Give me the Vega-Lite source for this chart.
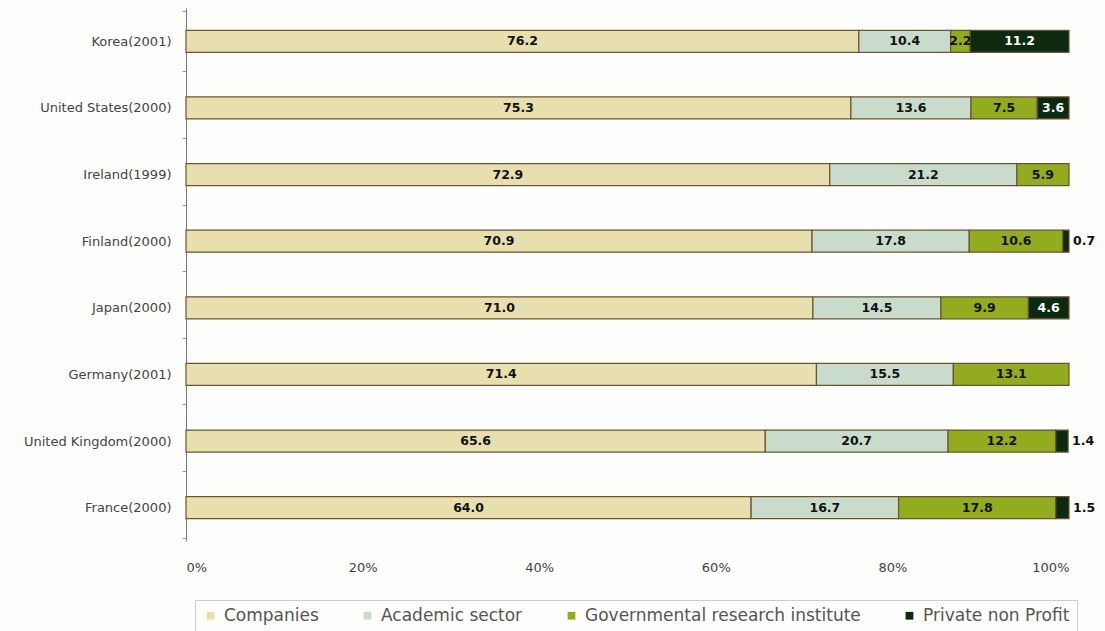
{
  "$schema": "https://vega.github.io/schema/vega-lite/v6.json",
  "width": 883,
  "height": 533,
  "autosize": {"type": "none"},
  "padding": {"left": 186, "top": 8, "right": 36, "bottom": 90},
  "background": "#fdfdfb",
  "config": {"view": {"stroke": null}, "font": "DejaVu Sans"},
  "data": {"values": [
    {"country": "Korea(2001)", "sector": "Companies", "k": 1, "value": 76.2},
    {"country": "Korea(2001)", "sector": "Academic sector", "k": 2, "value": 10.4},
    {"country": "Korea(2001)", "sector": "Governmental research institute", "k": 3, "value": 2.2},
    {"country": "Korea(2001)", "sector": "Private non Profit", "k": 4, "value": 11.2},
    {"country": "United States(2000)", "sector": "Companies", "k": 1, "value": 75.3},
    {"country": "United States(2000)", "sector": "Academic sector", "k": 2, "value": 13.6},
    {"country": "United States(2000)", "sector": "Governmental research institute", "k": 3, "value": 7.5},
    {"country": "United States(2000)", "sector": "Private non Profit", "k": 4, "value": 3.6},
    {"country": "Ireland(1999)", "sector": "Companies", "k": 1, "value": 72.9},
    {"country": "Ireland(1999)", "sector": "Academic sector", "k": 2, "value": 21.2},
    {"country": "Ireland(1999)", "sector": "Governmental research institute", "k": 3, "value": 5.9},
    {"country": "Finland(2000)", "sector": "Companies", "k": 1, "value": 70.9},
    {"country": "Finland(2000)", "sector": "Academic sector", "k": 2, "value": 17.8},
    {"country": "Finland(2000)", "sector": "Governmental research institute", "k": 3, "value": 10.6},
    {"country": "Finland(2000)", "sector": "Private non Profit", "k": 4, "value": 0.7},
    {"country": "Japan(2000)", "sector": "Companies", "k": 1, "value": 71.0},
    {"country": "Japan(2000)", "sector": "Academic sector", "k": 2, "value": 14.5},
    {"country": "Japan(2000)", "sector": "Governmental research institute", "k": 3, "value": 9.9},
    {"country": "Japan(2000)", "sector": "Private non Profit", "k": 4, "value": 4.6},
    {"country": "Germany(2001)", "sector": "Companies", "k": 1, "value": 71.4},
    {"country": "Germany(2001)", "sector": "Academic sector", "k": 2, "value": 15.5},
    {"country": "Germany(2001)", "sector": "Governmental research institute", "k": 3, "value": 13.1},
    {"country": "United Kingdom(2000)", "sector": "Companies", "k": 1, "value": 65.6},
    {"country": "United Kingdom(2000)", "sector": "Academic sector", "k": 2, "value": 20.7},
    {"country": "United Kingdom(2000)", "sector": "Governmental research institute", "k": 3, "value": 12.2},
    {"country": "United Kingdom(2000)", "sector": "Private non Profit", "k": 4, "value": 1.4},
    {"country": "France(2000)", "sector": "Companies", "k": 1, "value": 64.0},
    {"country": "France(2000)", "sector": "Academic sector", "k": 2, "value": 16.7},
    {"country": "France(2000)", "sector": "Governmental research institute", "k": 3, "value": 17.8},
    {"country": "France(2000)", "sector": "Private non Profit", "k": 4, "value": 1.5}
  ]},
  "transform": [
    {"stack": "value", "groupby": ["country"], "sort": [{"field": "k"}], "as": ["x0", "x1"]},
    {"calculate": "(datum.x0 + datum.x1) / 2", "as": "mid"}
  ],
  "encoding": {
    "y": {
      "field": "country", "type": "nominal",
      "sort": ["Korea(2001)", "United States(2000)", "Ireland(1999)", "Finland(2000)", "Japan(2000)", "Germany(2001)", "United Kingdom(2000)", "France(2000)"],
      "title": null,
      "axis": {"labelFontSize": 13, "labelColor": "#444", "labelPadding": 11, "domainColor": "#777", "tickColor": "#999", "tickSize": 4, "tickBand": "extent"}
    }
  },
  "layer": [
    {
      "mark": {"type": "bar", "size": 22, "stroke": "#6b5430", "strokeWidth": 1.2},
      "encoding": {
        "x": {"field": "x0", "type": "quantitative", "scale": {"domain": [0, 100], "nice": false},
          "axis": {"labelExpr": "datum.value + '%'", "values": [0, 20, 40, 60, 80, 100], "grid": false, "domain": false, "ticks": false, "labelFontSize": 13, "labelColor": "#444", "labelPadding": 20, "title": null}},
        "x2": {"field": "x1"},
        "color": {
          "field": "sector", "type": "nominal",
          "scale": {"domain": ["Companies", "Academic sector", "Governmental research institute", "Private non Profit"],
                    "range": ["#e8dfae", "#c9dccb", "#93ab1e", "#0c2a10"]},
          "legend": {"title": null, "orient": "none", "legendX": 9, "legendY": 592, "direction": "horizontal",
            "symbolType": "square", "symbolSize": 60, "symbolStrokeWidth": 0, "labelFontSize": 17, "labelColor": "#555",
            "labelLimit": 500, "columnPadding": 40, "padding": 7, "strokeColor": "#ccc", "labelOffset": 5}
        }
      }
    },
    {
      "transform": [{"filter": "datum.value >= 2"}],
      "mark": {"type": "text", "fontWeight": "bold", "fontSize": 12.5, "baseline": "middle"},
      "encoding": {
        "x": {"field": "mid", "type": "quantitative"},
        "text": {"field": "value", "type": "quantitative", "format": ".1f"},
        "color": {"condition": {"test": "datum.sector === 'Private non Profit'", "value": "#ffffff"}, "value": "#111"}
      }
    },
    {
      "transform": [{"filter": "datum.value < 2"}],
      "mark": {"type": "text", "fontWeight": "bold", "fontSize": 12.5, "baseline": "middle", "align": "left", "dx": 4, "color": "#111"},
      "encoding": {
        "x": {"field": "x1", "type": "quantitative"},
        "text": {"field": "value", "type": "quantitative", "format": ".1f"}
      }
    }
  ]
}
